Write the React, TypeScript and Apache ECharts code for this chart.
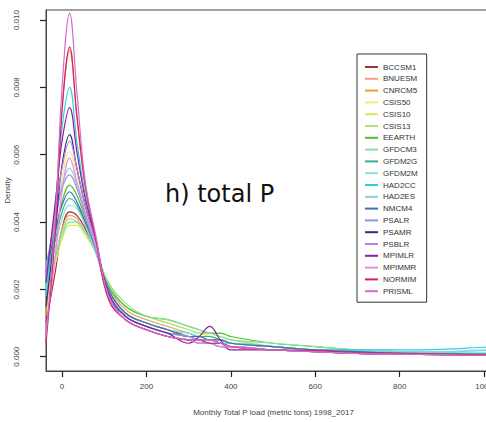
import React, { useEffect, useRef } from "react";
import * as echarts from "echarts";

// x positions (monthly total P load, metric tons) at which densities are read
const X_VALUES = [-38, -15, 0, 18, 35, 55, 80, 110, 150, 200, 250, 300, 325, 350, 375, 400, 500, 600, 700, 800, 900, 1000, 1040];

const MODEL_NAMES = [
  "BCCSM1", "BNUESM", "CNRCM5", "CSIS50", "CSIS10", "CSIS13", "EEARTH", "GFDCM3", "GFDM2G", "GFDM2M",
  "HAD2CC", "HAD2ES", "NMCM4", "PSALR", "PSAMR", "PSBLR", "MPIMLR", "MPIMMR", "NORMIM", "PRISML",
];

const MODEL_COLORS = [
  "#a83232", "#f0a07c", "#e8a02c", "#f2ee7a", "#d6e85a", "#b2e07e", "#4cbf2e", "#8ee0a0", "#2eb09c", "#8ee0e0",
  "#2ccde6", "#8ccfe8", "#3f6fb0", "#9494da", "#2e2e7e", "#b482e2", "#8e1ea0", "#e48ee2", "#d41e6e", "#d26ec4",
];

const BCCSM1 = [0.0010, 0.0026, 0.0038, 0.0043, 0.0042, 0.0038, 0.0031, 0.0020, 0.0013, 0.0010, 0.0008, 0.0006, 0.0005, 0.0005, 0.0004, 0.0003, 0.0002, 0.00015, 0.0001, 0.00008, 0.00006, 0.00005, 0.00005];
const BNUESM = [0.0019, 0.0030, 0.0038, 0.0042, 0.0041, 0.0037, 0.0031, 0.0021, 0.0014, 0.0011, 0.0009, 0.0007, 0.0006, 0.0006, 0.0005, 0.0004, 0.0003, 0.0002, 0.00015, 0.0001, 0.00008, 0.00006, 0.00006];
const CNRCM5 = [0.0012, 0.0045, 0.0074, 0.0091, 0.0071, 0.0050, 0.0034, 0.0018, 0.0012, 0.0009, 0.0007, 0.0006, 0.0005, 0.0005, 0.0005, 0.0004, 0.0003, 0.0002, 0.00015, 0.0001, 0.00008, 0.00006, 0.00005];
const CSIS50 = [0.0020, 0.0039, 0.0053, 0.0061, 0.0054, 0.0044, 0.0033, 0.0019, 0.0013, 0.0010, 0.0008, 0.0006, 0.0006, 0.0005, 0.0005, 0.0005, 0.0003, 0.0002, 0.00015, 0.0001, 0.00008, 0.00007, 0.00007];
const CSIS10 = [0.0018, 0.0028, 0.0035, 0.0039, 0.0039, 0.0036, 0.0031, 0.0022, 0.0015, 0.0012, 0.0010, 0.0008, 0.0007, 0.0006, 0.0005, 0.0004, 0.0003, 0.0002, 0.00015, 0.00012, 0.0001, 0.00008, 0.00008];
const CSIS13 = [0.0020, 0.0030, 0.0037, 0.0041, 0.0040, 0.0037, 0.0031, 0.0022, 0.0015, 0.0012, 0.0010, 0.0008, 0.0007, 0.0007, 0.0006, 0.0005, 0.0003, 0.0002, 0.00015, 0.00012, 0.0001, 0.00008, 0.00008];
const EEARTH = [0.0022, 0.0037, 0.0046, 0.0051, 0.0048, 0.0041, 0.0032, 0.0021, 0.0015, 0.0012, 0.0011, 0.0009, 0.0008, 0.0007, 0.0007, 0.0006, 0.0004, 0.0003, 0.0002, 0.00015, 0.0001, 0.00008, 0.00008];
const GFDCM3 = [0.0021, 0.0030, 0.0036, 0.0040, 0.0040, 0.0037, 0.0031, 0.0022, 0.0016, 0.0012, 0.0011, 0.0009, 0.0008, 0.0007, 0.0006, 0.0005, 0.0004, 0.0003, 0.0002, 0.00015, 0.00012, 0.0001, 0.0001];
const GFDM2G = [0.0023, 0.0035, 0.0043, 0.0047, 0.0045, 0.0039, 0.0031, 0.0020, 0.0013, 0.0010, 0.0008, 0.0007, 0.0006, 0.0006, 0.0005, 0.0004, 0.0003, 0.0002, 0.00015, 0.00012, 0.0001, 0.0001, 0.0001];
const GFDM2M = [0.0021, 0.0033, 0.0041, 0.0045, 0.0044, 0.0039, 0.0031, 0.0020, 0.0013, 0.0010, 0.0008, 0.0007, 0.0006, 0.0005, 0.0005, 0.0004, 0.0003, 0.0002, 0.00018, 0.00015, 0.00015, 0.0002, 0.0002];
const HAD2CC = [0.0018, 0.0046, 0.0068, 0.0080, 0.0064, 0.0048, 0.0034, 0.0018, 0.0012, 0.0009, 0.0007, 0.0006, 0.0005, 0.0005, 0.0004, 0.0004, 0.0003, 0.0002, 0.0002, 0.0002, 0.00022, 0.00028, 0.0003];
const HAD2ES = [0.0026, 0.0042, 0.0051, 0.0056, 0.0051, 0.0043, 0.0032, 0.0019, 0.0012, 0.0009, 0.0007, 0.0006, 0.0005, 0.0005, 0.0004, 0.0004, 0.0003, 0.0002, 0.00015, 0.00015, 0.00015, 0.00018, 0.0002];
const NMCM4 = [0.0025, 0.0038, 0.0045, 0.0049, 0.0046, 0.0040, 0.0032, 0.0020, 0.0013, 0.0010, 0.0008, 0.0006, 0.0006, 0.0005, 0.0005, 0.0004, 0.0003, 0.0002, 0.00015, 0.0001, 0.00008, 0.00006, 0.00006];
const PSALR = [0.0027, 0.0041, 0.0050, 0.0054, 0.0050, 0.0042, 0.0032, 0.0019, 0.0012, 0.0009, 0.0007, 0.0006, 0.0005, 0.0004, 0.0004, 0.0003, 0.0002, 0.00015, 0.0001, 0.00008, 0.00006, 0.00005, 0.00005];
const PSAMR = [0.0015, 0.0039, 0.0057, 0.0066, 0.0056, 0.0045, 0.0034, 0.0018, 0.0011, 0.0008, 0.0006, 0.0005, 0.0004, 0.0004, 0.0003, 0.0003, 0.0002, 0.00015, 0.0001, 0.00008, 0.00006, 0.00005, 0.00005];
const PSBLR = [0.0024, 0.0044, 0.0056, 0.0064, 0.0056, 0.0045, 0.0034, 0.0018, 0.0011, 0.0008, 0.0006, 0.0005, 0.0004, 0.0004, 0.0003, 0.0003, 0.0002, 0.00015, 0.0001, 0.00008, 0.00006, 0.00005, 0.00005];
const MPIMLR = [0.0022, 0.0047, 0.0064, 0.0074, 0.0061, 0.0047, 0.0035, 0.0019, 0.0012, 0.0009, 0.0007, 0.0004, 0.0006, 0.0009, 0.0005, 0.0002, 0.0002, 0.00015, 0.0001, 0.00008, 0.00006, 0.00005, 0.00005];
const MPIMMR = [0.0008, 0.0031, 0.0049, 0.0059, 0.0052, 0.0043, 0.0033, 0.0018, 0.0011, 0.0008, 0.0006, 0.0005, 0.0004, 0.0004, 0.0003, 0.0003, 0.0002, 0.00015, 0.0001, 0.00008, 0.00006, 0.00005, 0.00005];
const NORMIM = [0.0004, 0.0039, 0.0073, 0.0092, 0.0072, 0.0051, 0.0035, 0.0017, 0.0011, 0.0008, 0.0006, 0.0005, 0.0005, 0.0004, 0.0004, 0.0003, 0.0002, 0.00018, 0.00012, 0.0001, 0.00008, 0.00006, 0.00006];
const PRISML = [0.0006, 0.0043, 0.0080, 0.0102, 0.0079, 0.0052, 0.0036, 0.0018, 0.0011, 0.0008, 0.0006, 0.0005, 0.0005, 0.0005, 0.0004, 0.0003, 0.0002, 0.00015, 0.0001, 0.00008, 0.00006, 0.00005, 0.00005];

const SERIES_VALUES = [
  BCCSM1, BNUESM, CNRCM5, CSIS50, CSIS10, CSIS13, EEARTH, GFDCM3, GFDM2G, GFDM2M,
  HAD2CC, HAD2ES, NMCM4, PSALR, PSAMR, PSBLR, MPIMLR, MPIMMR, NORMIM, PRISML,
];

const X_TICKS = [0, 200, 400, 600, 800, 1000];
const Y_TICKS = [0, 0.002, 0.004, 0.006, 0.008, 0.01];

const FONT = "Liberation Sans";

export default function App() {
  const ref = useRef<HTMLDivElement>(null);
  useEffect(() => {
    if (!ref.current) return;
    const chart = echarts.init(ref.current, undefined, { renderer: "svg" });
    const series = MODEL_NAMES.map((name, k) => ({
      name,
      type: "line",
      data: X_VALUES.map((x, i) => [x, SERIES_VALUES[k][i]]),
      smooth: 0.4,
      symbol: "none",
      showSymbol: false,
      lineStyle: { color: MODEL_COLORS[k], width: 1.2 },
      itemStyle: { color: MODEL_COLORS[k] },
    }));
    chart.setOption({
      animation: false,
      backgroundColor: "#ffffff",
      grid: {
        left: 46,
        top: 10,
        width: 455,
        height: 361,
        containLabel: false,
        outerBoundsMode: "none",
        show: true,
        borderColor: "#444",
        borderWidth: 1,
        backgroundColor: "transparent",
      },
      xAxis: {
        type: "value",
        min: -38,
        max: 1040,
        splitLine: { show: false },
        axisLine: { show: true, onZero: false, lineStyle: { color: "#444", width: 1 } },
        axisTick: { show: true, inside: false, customValues: X_TICKS, length: 6, lineStyle: { color: "#222", width: 1.2 } },
        axisLabel: {
          customValues: X_TICKS,
          fontSize: 8,
          color: "#444",
          fontFamily: FONT,
          margin: 11,
          formatter: (v: number) => String(v),
        },
        name: "Monthly Total P load (metric tons) 1998_2017",
        nameLocation: "middle",
        nameGap: 37,
        nameMoveOverlap: false,
        nameTextStyle: { fontSize: 8, color: "#444", fontFamily: FONT },
      },
      yAxis: {
        type: "value",
        min: -0.000425,
        max: 0.0103,
        splitLine: { show: false },
        axisLine: { show: true, onZero: false, lineStyle: { color: "#444", width: 1 } },
        axisTick: { show: true, inside: false, customValues: Y_TICKS, length: 6, lineStyle: { color: "#222", width: 1.2 } },
        axisLabel: {
          customValues: Y_TICKS,
          rotate: 90,
          fontSize: 8,
          color: "#444",
          fontFamily: FONT,
          margin: 26,
          align: "center",
          formatter: (v: number) => v.toFixed(3),
        },
        name: "Density",
        nameLocation: "middle",
        nameRotate: 90,
        nameGap: 35,
        nameMoveOverlap: false,
        nameTextStyle: { fontSize: 8, color: "#444", fontFamily: FONT },
      },
      legend: {
        orient: "vertical",
        left: 357,
        top: 54,
        padding: [8, 9, 6, 8],
        icon: "rect",
        itemWidth: 13,
        itemHeight: 2,
        itemGap: 1.8,
        borderColor: "#333",
        borderWidth: 1,
        backgroundColor: "#fff",
        textStyle: { fontSize: 8, lineHeight: 10, color: "#333", fontFamily: FONT },
        data: MODEL_NAMES,
      },
      graphic: [
        {
          type: "text",
          left: 165,
          top: 182,
          style: {
            text: "h) total P",
            fontSize: 24,
            fontFamily: "DejaVu Sans",
            fill: "#111",
          },
        },
      ],
      series,
    });
    return () => chart.dispose();
  }, []);
  return (
    <div style={{ position: "fixed", left: 0, top: 0, width: 486, height: 422, overflow: "hidden", background: "#fff" }}>
      <div ref={ref} style={{ width: 520, height: 422 }} />
    </div>
  );
}
